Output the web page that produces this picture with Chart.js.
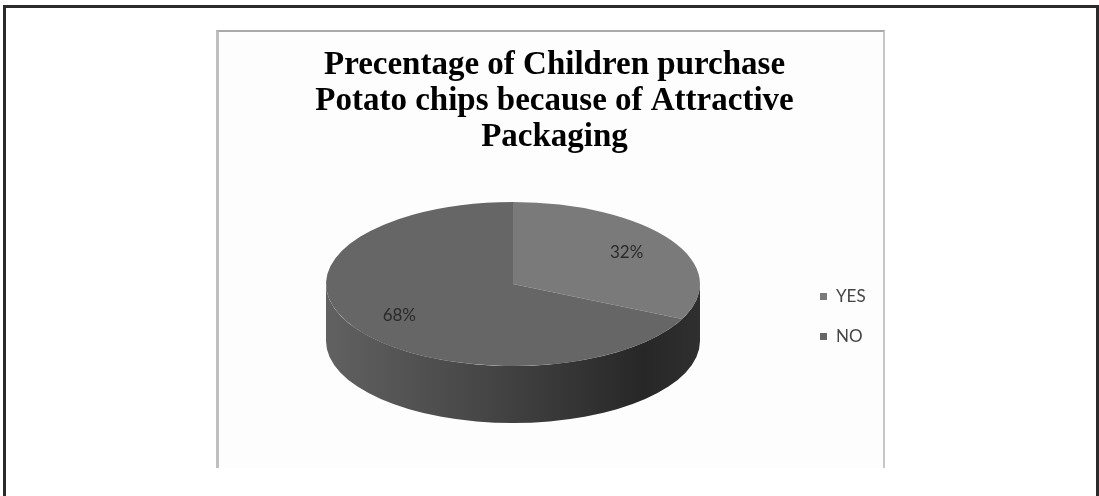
<!DOCTYPE html>
<html>
<head>
<meta charset="utf-8">
<title>Attractive Packaging</title>
<script src="https://cdn.jsdelivr.net/npm/chart.js@4.4.1/dist/chart.umd.min.js"></script>
<style>
  html, body { margin: 0; padding: 0; background: #fff; }
  body { width: 1099px; height: 496px; position: relative; overflow: hidden; }
  #frame {
    position: absolute; left: 3px; top: 5px; width: 1090px; height: 530px;
    border: 3px solid #2b2b2b; border-bottom: none;
  }
  #panel {
    position: absolute; left: 216px; top: 30px; width: 664px; height: 436px;
    background: #fdfdfd;
    border-left: 3px solid #bfbfbf; border-top: 2px solid #a9a9a9; border-right: 2px solid #c6c6c6;
  }
  #wrap { position: absolute; left: 0; top: 0; width: 1099px; height: 496px; }
</style>
</head>
<body>
<div id="frame"></div>
<div id="panel"></div>
<div id="wrap"><canvas id="chart"></canvas></div>
<script>
// Survey answers and their shares (percent)
const categories = ['YES', 'NO'];
const shares = [32, 68];
const titleLines = [
  'Precentage of Children purchase',
  'Potato chips because of Attractive',
  'Packaging'
];

// Tilted-disc geometry on the page: ellipse centre, radii and wall depth
const disc = { cx: 513, cy: 284, rx: 187, ry: 82, depth: 57 };
const topColors = ['#7a7a7a', '#666666'];

function wallSpans(arcs) {
  // front-facing (0..PI) parts of every slice, merged where they touch
  const spans = [];
  arcs.forEach(arc => {
    for (const k of [-1, 0, 1]) {
      const s = Math.max(arc.startAngle + k * 2 * Math.PI, 0);
      const e = Math.min(arc.endAngle + k * 2 * Math.PI, Math.PI);
      if (e > s) spans.push([s, e]);
    }
  });
  spans.sort((a, b) => a[0] - b[0]);
  const merged = [];
  spans.forEach(sp => {
    const last = merged[merged.length - 1];
    if (last && sp[0] <= last[1] + 1e-6) last[1] = Math.max(last[1], sp[1]);
    else merged.push(sp.slice());
  });
  return merged;
}

const tiltedPie = {
  id: 'tiltedPie',
  beforeDatasetsDraw(chart) {
    const ctx = chart.ctx;
    const arcs = chart.getDatasetMeta(0).data;
    if (!arcs.length) return;
    const ref = arcs[0];
    const r = ref.outerRadius;

    // side wall of the disc
    const g = ctx.createLinearGradient(disc.cx - disc.rx, 0, disc.cx + disc.rx, 0);
    g.addColorStop(0, '#616161');
    g.addColorStop(0.45, '#444444');
    g.addColorStop(0.85, '#272727');
    g.addColorStop(1, '#2f2f2f');
    ctx.save();
    wallSpans(arcs).forEach(([s, e]) => {
      ctx.beginPath();
      ctx.ellipse(disc.cx, disc.cy, disc.rx, disc.ry, 0, s, e, false);
      ctx.ellipse(disc.cx, disc.cy + disc.depth, disc.rx, disc.ry, 0, e, s, true);
      ctx.closePath();
      ctx.fillStyle = g;
      ctx.fill();
    });
    ctx.restore();

    // squash the library's circular slices into the disc's top face
    ctx.save();
    ctx.translate(disc.cx, disc.cy);
    ctx.scale(disc.rx / r, disc.ry / r);
    ctx.translate(-ref.x, -ref.y);
  },
  afterDatasetsDraw(chart) {
    const ctx = chart.ctx;
    ctx.restore();
    const arcs = chart.getDatasetMeta(0).data;
    const values = chart.data.datasets[0].data;
    const total = values.reduce((a, b) => a + b, 0);

    // percentage labels on the slices
    ctx.save();
    ctx.font = '17px Lato';
    ctx.fillStyle = '#2a2a2a';
    ctx.textAlign = 'center';
    ctx.textBaseline = 'middle';
    arcs.forEach((arc, i) => {
      const mid = (arc.startAngle + arc.endAngle) / 2;
      const f = 0.72;
      const x = disc.cx + Math.cos(mid) * disc.rx * f;
      const y = disc.cy + Math.sin(mid) * disc.ry * f;
      ctx.fillText(Math.round(values[i] / total * 100) + '%', x, y);
    });

    // legend
    ctx.textAlign = 'left';
    chart.data.labels.forEach((label, i) => {
      const y = 297 + i * 40;
      ctx.fillStyle = chart.data.datasets[0].backgroundColor[i];
      ctx.fillRect(820, y - 4, 7, 7);
      ctx.fillStyle = '#454545';
      ctx.fillText(label, 836, y);
    });
    ctx.restore();
  }
};

new Chart(document.getElementById('chart'), {
  type: 'pie',
  data: {
    labels: categories,
    datasets: [{
      data: shares,
      backgroundColor: topColors,
      borderWidth: 0,
      clip: false
    }]
  },
  options: {
    responsive: true,
    maintainAspectRatio: false,
    animation: false,
    events: [],
    layout: { padding: { left: 10, right: 0, top: 0, bottom: 20 } },
    plugins: {
      legend: { display: false },
      tooltip: { enabled: false },
      title: {
        display: true,
        text: titleLines,
        color: '#000',
        font: { family: 'Liberation Serif', size: 33, weight: 'bold', lineHeight: 1.1 },
        padding: { top: 47, bottom: 10 }
      }
    }
  },
  plugins: [tiltedPie]
});
</script>
</body>
</html>
